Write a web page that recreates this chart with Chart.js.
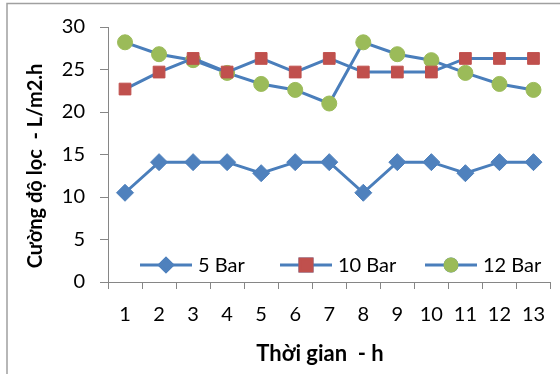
<!DOCTYPE html>
<html><head><meta charset="utf-8">
<script src="https://cdn.jsdelivr.net/npm/chart.js@4/dist/chart.umd.min.js"></script>
<style>html,body{margin:0;padding:0;background:#fff}#wrap{width:560px;height:374px}</style>
</head><body><div id="wrap"><canvas id="c" width="560" height="374"></canvas></div>
<script>
const categories = ['1','2','3','4','5','6','7','8','9','10','11','12','13'];
const bar5  = [10.5, 14.1, 14.1, 14.1, 12.8, 14.1, 14.1, 10.5, 14.1, 14.1, 12.8, 14.1, 14.1];
const bar10 = [22.7, 24.7, 26.3, 24.7, 26.3, 24.7, 26.3, 24.7, 24.7, 24.7, 26.3, 26.3, 26.3];
const bar12 = [28.2, 26.8, 26.1, 24.6, 23.3, 22.6, 21.0, 28.2, 26.8, 26.1, 24.6, 23.3, 22.6];
const yTicks = [0, 5, 10, 15, 20, 25, 30];
const seriesNames = ['5 Bar', '10 Bar', '12 Bar'];
const xTitle = 'Thời gian  - h';
const yTitle = 'Cường độ lọc  - L/m2.h';

const FONT = 'Lato, "Open Sans", sans-serif';
const LINE = '#4A7EBB';
const AXIS = '#868686';

const framePlugin = {
  id: 'frame',
  beforeDraw(chart) {
    const ctx = chart.ctx;
    ctx.save();
    ctx.fillStyle = '#fff';
    ctx.fillRect(0, 0, chart.width, chart.height);
    ctx.strokeStyle = '#a0a0a0';
    ctx.lineWidth = 1.5;
    ctx.beginPath();
    ctx.moveTo(7, chart.height);
    ctx.lineTo(7, 3.5);
    ctx.lineTo(chart.width, 3.5);
    ctx.stroke();
    ctx.restore();
  }
};

const extrasPlugin = {
  id: 'extras',
  afterDatasetsDraw(chart) {
    const ctx = chart.ctx;
    const ca = chart.chartArea;
    ctx.save();
    // legend (line + marker + label), inside the plot area
    const ly = ca.bottom - 17;
    const starts = [ca.left + 32, ca.left + 172, ca.left + 317];
    chart.data.datasets.forEach((ds, i) => {
      const x0 = starts[i];
      ctx.strokeStyle = ds.borderColor;
      ctx.lineWidth = ds.borderWidth;
      ctx.beginPath();
      ctx.moveTo(x0, ly);
      ctx.lineTo(x0 + 52, ly);
      ctx.stroke();
      Chart.helpers.drawPoint(ctx, {
        pointStyle: ds.pointStyle,
        radius: ds.legendRadius,
        borderWidth: 1,
        rotation: 0
      }, x0 + 26, ly);
      ctx.fillStyle = ds.pointBackgroundColor;
      ctx.strokeStyle = ds.pointBorderColor;
      ctx.fill();
      ctx.stroke();
      ctx.fillStyle = '#000';
      ctx.font = '20px ' + FONT;
      ctx.textAlign = 'left';
      ctx.textBaseline = 'middle';
      ctx.fillText(ds.label, x0 + 58, ly + 1);
    });
    ctx.restore();
  },
  afterDraw(chart) {
    const ctx = chart.ctx;
    ctx.save();
    ctx.fillStyle = '#000';
    ctx.font = 'bold 22px ' + FONT;
    ctx.textAlign = 'center';
    ctx.textBaseline = 'middle';
    ctx.fillText(xTitle, 320, 354);
    ctx.translate(36, 166);
    ctx.rotate(-Math.PI / 2);
    ctx.font = 'bold 20px ' + FONT;
    ctx.fillText(yTitle, 0, 0);
    ctx.restore();
  }
};

function mkDataset(label, data, style, color, radius, legendRadius) {
  return {
    label, data,
    borderColor: LINE, borderWidth: 3, tension: 0, fill: false,
    pointStyle: style, pointRadius: radius, pointHoverRadius: radius,
    pointBackgroundColor: color, pointBorderColor: color, pointBorderWidth: 1,
    legendRadius
  };
}

new Chart(document.getElementById('c'), {
  type: 'line',
  data: {
    labels: categories,
    datasets: [
      mkDataset(seriesNames[0], bar5, 'rectRot', '#4F81BD', 8.5, 6.5),
      mkDataset(seriesNames[1], bar10, 'rect', '#C0504D', 8.3, 8.5),
      mkDataset(seriesNames[2], bar12, 'circle', '#9BBB59', 7.5, 6)
    ]
  },
  options: {
    responsive: false,
    animation: false,
    devicePixelRatio: 1,
    layout: { padding: { top: 21, right: 9, bottom: 0, left: 0 } },
    plugins: { legend: { display: false }, tooltip: { enabled: false }, title: { display: false } },
    scales: {
      x: {
        offset: true,
        ticks: { color: '#000', font: { family: FONT, size: 20 }, padding: 14, maxRotation: 0, autoSkip: false },
        grid: { offset: true, drawOnChartArea: false, drawTicks: true, tickLength: 7, color: AXIS, lineWidth: 1 },
        border: { color: AXIS, width: 1 },
        afterFit(s) { s.height = 92; }
      },
      y: {
        min: 0, max: 30,
        afterBuildTicks(s) { s.ticks = yTicks.map(v => ({ value: v })); },
        ticks: { color: '#000', font: { family: FONT, size: 20 }, padding: 15 },
        grid: { drawOnChartArea: false, drawTicks: true, tickLength: 8, color: AXIS, lineWidth: 1 },
        border: { color: AXIS, width: 1 },
        afterFit(s) { s.width = 108; }
      }
    }
  },
  plugins: [framePlugin, extrasPlugin]
});
</script>
</body></html>
